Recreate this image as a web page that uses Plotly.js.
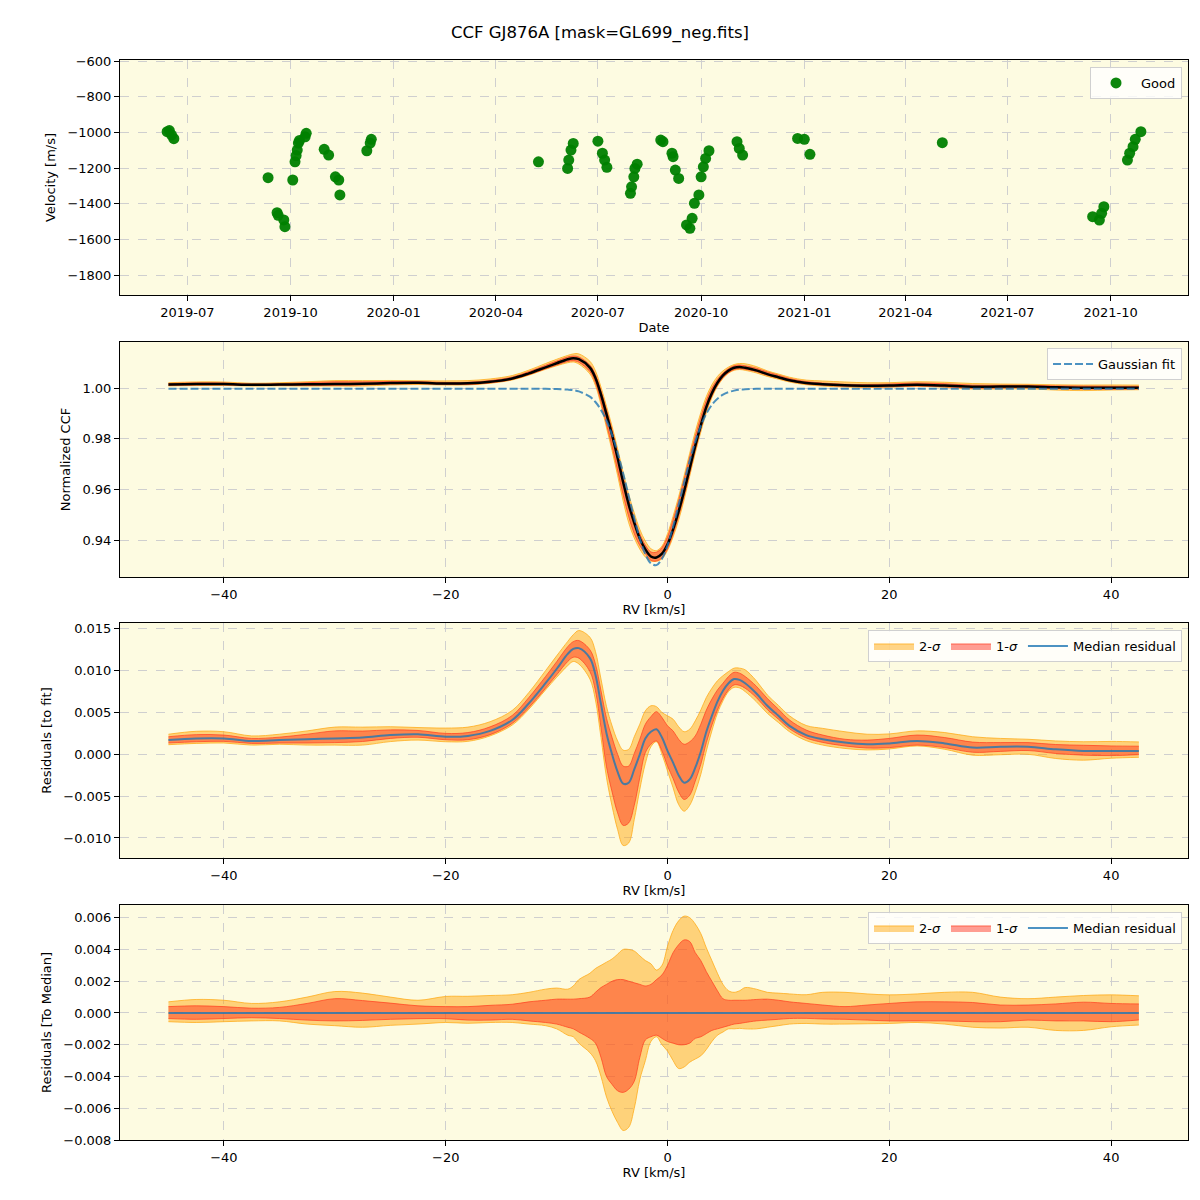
<!DOCTYPE html>
<html>
<head>
<meta charset="utf-8">
<script src="https://cdn.plot.ly/plotly-3.0.1.min.js"></script>
<style>html,body{margin:0;padding:0;background:#fff;}#chart{width:1200px;height:1200px;}</style>
</head>
<body>
<div id="chart"></div>
<script>
// ---------- Panel 1: velocity time series ----------
const obsDates = [
'2019-06-13','2019-06-15','2019-06-17','2019-06-19',
'2019-09-11','2019-09-19','2019-09-20','2019-09-25','2019-09-26','2019-10-03','2019-10-05','2019-10-06','2019-10-07','2019-10-08','2019-10-09','2019-10-14','2019-10-15',
'2019-10-31','2019-11-04','2019-11-10','2019-11-13','2019-11-14',
'2019-12-08','2019-12-11','2019-12-12',
'2020-05-09',
'2020-06-04','2020-06-05','2020-06-07','2020-06-09',
'2020-07-01','2020-07-05','2020-07-07','2020-07-09',
'2020-07-30','2020-07-31','2020-08-02','2020-08-03','2020-08-05',
'2020-08-26','2020-08-28','2020-09-05','2020-09-06','2020-09-08','2020-09-11',
'2020-09-18','2020-09-21','2020-09-23','2020-09-25','2020-09-29','2020-10-01','2020-10-03','2020-10-05','2020-10-08',
'2020-11-02','2020-11-04','2020-11-07',
'2020-12-26','2021-01-01','2021-01-06',
'2021-05-04',
'2021-09-15','2021-09-21','2021-09-23','2021-09-25',
'2021-10-16','2021-10-18','2021-10-21','2021-10-23','2021-10-28'
];
const obsVelocity = [
-996,-990,-1015,-1035,
-1254,-1450,-1465,-1491,-1529,-1267,-1165,-1130,-1099,-1060,-1045,-1025,-1005,
-1095,-1127,-1249,-1267,-1351,
-1103,-1060,-1039,
-1165,
-1202,-1155,-1099,-1062,
-1049,-1117,-1155,-1196,
-1342,-1305,-1249,-1202,-1178,
-1043,-1052,-1117,-1136,-1211,-1258,
-1519,-1538,-1482,-1398,-1351,-1249,-1193,-1146,-1103,
-1052,-1090,-1127,
-1034,-1039,-1123,
-1058,
-1473,-1492,-1454,-1417,
-1155,-1117,-1080,-1039,-996
];

// ---------- RV grid (km/s) ----------
const rv = [-45,-42.5,-40,-37.5,-35,-32.5,-30,-27.5,-25,-22.5,-20,-18,-16,-14,-12.5,-11,-10,-9,-8.5,-8,-7,-6.5,-6,-5.5,-5,-4.5,-4,-3.5,-3,-2.5,-2,-1.5,-1,-0.5,0,0.5,1,1.5,2,2.5,3,3.5,4,4.5,5,5.5,6,6.5,7,8,9,10,11,12.5,14,16,18,20,22.5,25,27.5,30,32.5,35,37.5,40,42.5];

// Gaussian fit (normalized CCF)
const gaussFit = [0.9997,0.9997,0.9997,0.9997,0.9997,0.9997,0.9997,0.9997,0.9997,0.9997,0.9997,0.9997,0.9997,0.9997,0.9997,0.9997,0.9996,0.9994,0.9992,0.9987,0.9966,0.9945,0.9914,0.9871,0.9815,0.9745,0.9663,0.9574,0.9486,0.9406,0.9344,0.9308,0.9301,0.9326,0.9379,0.9452,0.9538,0.9628,0.9713,0.9788,0.9850,0.9899,0.9934,0.9958,0.9974,0.9984,0.9990,0.9994,0.9995,0.9997,0.9997,0.9997,0.9997,0.9997,0.9997,0.9997,0.9997,0.9997,0.9997,0.9997,0.9997,0.9997,0.9997,0.9997,0.9997,0.9997,0.9997];

// Median residual to the fit
const medResid = [0.0017,0.0019,0.0019,0.0016,0.0017,0.0018,0.0019,0.0020,0.0023,0.0024,0.0021,0.0022,0.0028,0.0041,0.0061,0.0085,0.0102,0.0120,0.0126,0.0127,0.0115,0.0095,0.0060,0.0025,0.0000,-0.0021,-0.0035,-0.0034,-0.0018,0.0000,0.0019,0.0027,0.0030,0.0020,0.0004,-0.0010,-0.0025,-0.0034,-0.0030,-0.0016,0.0003,0.0027,0.0046,0.0063,0.0076,0.0085,0.0090,0.0089,0.0085,0.0073,0.0058,0.0046,0.0034,0.0023,0.0018,0.0014,0.0012,0.0013,0.0016,0.0013,0.0008,0.0009,0.0009,0.0006,0.0004,0.0004,0.0004];

// Percentile bands relative to the median
const hi2 = [0.0007,0.00085,0.0008,0.0006,0.0007,0.001,0.00135,0.00125,0.001,0.0008,0.00104,0.00105,0.0011,0.00115,0.0013,0.0015,0.00157,0.0015,0.0017,0.0021,0.0025,0.0028,0.003,0.0032,0.0034,0.0037,0.004,0.004,0.0039,0.0036,0.0033,0.0031,0.0027,0.0030,0.0042,0.0052,0.0058,0.0061,0.0060,0.0056,0.0050,0.0041,0.0033,0.0025,0.0018,0.0014,0.0013,0.0014,0.0016,0.0015,0.0013,0.00125,0.0012,0.00115,0.0013,0.0013,0.0012,0.00114,0.0012,0.0013,0.0013,0.001,0.0009,0.001,0.0011,0.00114,0.00108];
const hi1 = [0.0004,0.00045,0.0004,0.0003,0.00035,0.0006,0.0009,0.00078,0.00062,0.00045,0.0004,0.0004,0.00048,0.00055,0.0007,0.0008,0.00087,0.00087,0.00087,0.0009,0.001,0.0013,0.0016,0.0018,0.002,0.0021,0.0021,0.002,0.0019,0.0018,0.0017,0.0018,0.0021,0.0024,0.0030,0.0038,0.0043,0.0046,0.0045,0.0038,0.0033,0.0026,0.0020,0.0014,0.0009,0.0008,0.0008,0.0008,0.0008,0.00085,0.00087,0.0008,0.0007,0.0006,0.0005,0.0004,0.0005,0.0006,0.0007,0.0007,0.00066,0.0005,0.0005,0.00057,0.00068,0.0006,0.00057];
const lo1 = [-0.00035,-0.0004,-0.00035,-0.0003,-0.00035,-0.00045,-0.0005,-0.00047,-0.0004,-0.00036,-0.00036,-0.00045,-0.00045,-0.0004,-0.0005,-0.0006,-0.0007,-0.0009,-0.001,-0.0012,-0.0016,-0.0019,-0.0028,-0.004,-0.0045,-0.0049,-0.005,-0.0048,-0.0043,-0.0028,-0.0017,-0.0015,-0.0014,-0.0016,-0.0018,-0.0019,-0.002,-0.002,-0.0019,-0.0016,-0.0015,-0.0013,-0.0011,-0.001,-0.0009,-0.0008,-0.0007,-0.00066,-0.0006,-0.0005,-0.00045,-0.0004,-0.00035,-0.00034,-0.00038,-0.0004,-0.00045,-0.0005,-0.0005,-0.0005,-0.00055,-0.00055,-0.00045,-0.0005,-0.0005,-0.00055,-0.00044];
const lo2 = [-0.00055,-0.0006,-0.00055,-0.0005,-0.0005,-0.0007,-0.0008,-0.0009,-0.00078,-0.0007,-0.0006,-0.00065,-0.0006,-0.0006,-0.0007,-0.0008,-0.001,-0.0014,-0.0015,-0.0019,-0.0025,-0.003,-0.004,-0.0053,-0.0062,-0.0069,-0.0074,-0.0072,-0.006,-0.0042,-0.0030,-0.0018,-0.0015,-0.0020,-0.0024,-0.0030,-0.0035,-0.0034,-0.0031,-0.0029,-0.0027,-0.0023,-0.0018,-0.0014,-0.0012,-0.0010,-0.0010,-0.00097,-0.001,-0.001,-0.0009,-0.0008,-0.0007,-0.00066,-0.0007,-0.0007,-0.00068,-0.00066,-0.0006,-0.0007,-0.0009,-0.00095,-0.0009,-0.0011,-0.0011,-0.00087,-0.00076];

const plus = (a, b) => a.map((v, i) => v + b[i]);
const ccfMed = plus(gaussFit, medResid);
const zeros = rv.map(() => 0);

const C2 = 'rgba(255,170,20,0.5)', C2e = 'rgba(255,170,20,0.75)';
const C1 = 'rgba(255,40,20,0.45)', C1e = 'rgba(255,60,30,0.7)';
const BLUE = 'rgba(31,119,180,0.8)';

function bandTraces(center, xa, ya, leg, showLeg) {
  return [
    {x: rv, y: plus(center, lo2), xaxis: xa, yaxis: ya, mode: 'lines', line: {color: C2e, width: 1}, showlegend: false, hoverinfo: 'skip', legend: leg},
    {x: rv, y: plus(center, hi2), xaxis: xa, yaxis: ya, mode: 'lines', line: {color: C2e, width: 1}, fill: 'tonexty', fillcolor: C2, name: '2-<i>σ</i>', showlegend: showLeg, legend: leg},
    {x: rv, y: plus(center, lo1), xaxis: xa, yaxis: ya, mode: 'lines', line: {color: C1e, width: 1}, showlegend: false, hoverinfo: 'skip', legend: leg},
    {x: rv, y: plus(center, hi1), xaxis: xa, yaxis: ya, mode: 'lines', line: {color: C1e, width: 1}, fill: 'tonexty', fillcolor: C1, name: '1-<i>σ</i>', showlegend: showLeg, legend: leg}
  ];
}

const traces = [
  {x: obsDates, y: obsVelocity, xaxis: 'x', yaxis: 'y', mode: 'markers', type: 'scatter', name: 'Good',
   marker: {color: 'rgb(0,128,0)', size: 11, opacity: 0.95}, legend: 'legend'},
  ...bandTraces(ccfMed, 'x2', 'y2', 'legend2', false),
  {x: rv, y: ccfMed, xaxis: 'x2', yaxis: 'y2', mode: 'lines', line: {color: 'black', width: 2.5}, showlegend: false, legend: 'legend2'},
  {x: rv, y: gaussFit, xaxis: 'x2', yaxis: 'y2', mode: 'lines', line: {color: BLUE, width: 2, dash: '8px,3px', shape: 'spline'}, name: 'Gaussian fit', legend: 'legend2'},
  ...bandTraces(medResid, 'x3', 'y3', 'legend3', true),
  {x: rv, y: medResid, xaxis: 'x3', yaxis: 'y3', mode: 'lines', line: {color: BLUE, width: 2}, name: 'Median residual', legend: 'legend3'},
  ...bandTraces(zeros, 'x4', 'y4', 'legend4', true),
  {x: rv, y: zeros, xaxis: 'x4', yaxis: 'y4', mode: 'lines', line: {color: BLUE, width: 2}, name: 'Median residual', legend: 'legend4'}
];
traces.forEach(t => { if (t.mode === 'lines' && !t.line.shape) t.line.shape = 'spline'; });

const FONT = {family: 'DejaVu Sans, sans-serif', size: 13, color: 'black'};
const GRID = '#cfcfcf';
function ax(extra) {
  return Object.assign({
    showline: true, linecolor: 'black', linewidth: 1, mirror: true,
    ticks: 'outside', ticklen: 5, tickcolor: 'black', tickwidth: 1,
    showgrid: true, gridcolor: GRID, griddash: 'dash', gridwidth: 1,
    zeroline: false, tickfont: FONT
  }, extra);
}
const rvAxis = (anchor, title) => ax({anchor: anchor, range: [-49.37, 46.93], dtick: 20, tick0: 0,
  title: {text: title, font: FONT, standoff: 4}});

function legendAt(y, horiz) {
  return {x: 0.9944, xanchor: 'right', y: y, yanchor: 'top', orientation: horiz ? 'h' : 'v',
    traceorder: 'normal',
    bgcolor: 'rgba(255,255,255,0.8)', bordercolor: '#d0d0d0', borderwidth: 1,
    font: FONT, itemwidth: 40, tracegroupgap: 0};
}

const layout = {
  width: 1200, height: 1200,
  margin: {l: 120, r: 12, t: 60, b: 60},
  paper_bgcolor: 'white',
  plot_bgcolor: 'rgb(253,251,225)',
  font: FONT,
  title: {text: 'CCF GJ876A [mask=GL699_neg.fits]', font: {family: 'DejaVu Sans, sans-serif', size: 16.5, color: 'black'},
          x: 0.5, xanchor: 'center', y: 0.973, yanchor: 'middle'},
  xaxis: ax({domain: [0, 1], anchor: 'y', type: 'date', range: ['2019-05-02', '2021-12-09'],
             tickformat: '%Y-%m', dtick: 'M3', tick0: '2019-07-01', title: {text: 'Date', font: FONT, standoff: 4}}),
  yaxis: ax({domain: [0.7824, 1.0], anchor: 'x', range: [-1912, -594], dtick: 200, tick0: 0,
             title: {text: 'Velocity [m/s]', font: FONT, standoff: 8}}),
  xaxis2: rvAxis('y2', 'RV [km/s]'),
  yaxis2: ax({domain: [0.5213, 0.7389], anchor: 'x2', range: [0.9254, 1.0182], dtick: 0.02, tick0: 0, tickformat: '.2f',
             title: {text: 'Normalized CCF', font: FONT, standoff: 8}}),
  xaxis3: rvAxis('y3', 'RV [km/s]'),
  yaxis3: ax({domain: [0.2611, 0.4787], anchor: 'x3', range: [-0.0124, 0.0157], dtick: 0.005, tick0: 0, tickformat: '.3f',
             title: {text: 'Residuals [to fit]', font: FONT, standoff: 8}}),
  xaxis4: rvAxis('y4', 'RV [km/s]'),
  yaxis4: ax({domain: [0, 0.2176], anchor: 'x4', range: [-0.008, 0.0068], dtick: 0.002, tick0: 0, tickformat: '.3f',
             title: {text: 'Residuals [To Median]', font: FONT, standoff: 8}}),
  legend: legendAt(0.9935, false),
  legend2: legendAt(0.7333, false),
  legend3: legendAt(0.4722, true),
  legend4: legendAt(0.2111, true),
  showlegend: true
};

Plotly.newPlot('chart', traces, layout, {displayModeBar: false, staticPlot: true});
</script>
</body>
</html>
